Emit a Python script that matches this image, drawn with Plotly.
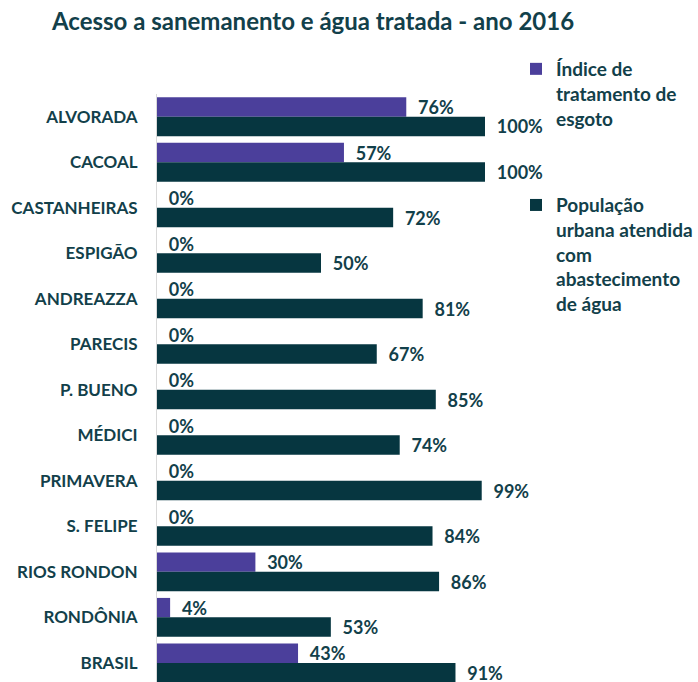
import plotly.graph_objects as go

categories = ["ALVORADA", "CACOAL", "CASTANHEIRAS", "ESPIGÃO", "ANDREAZZA", "PARECIS",
              "P. BUENO", "MÉDICI", "PRIMAVERA", "S. FELIPE", "RIOS RONDON", "RONDÔNIA", "BRASIL"]
esgoto = [76, 57, 0, 0, 0, 0, 0, 0, 0, 0, 30, 4, 43]
agua = [100, 100, 72, 50, 81, 67, 85, 74, 99, 84, 86, 53, 91]

series_names = ["Índice de<br>tratamento de<br>esgoto",
                "População<br>urbana atendida<br>com<br>abastecimento<br>de água"]
colors = ["#4B3F9B", "#063640"]
text_color = "#12404A"
FONT = "Lato"

PLOT_TOP = 94
PLOT_H = 682 - PLOT_TOP

fig = go.Figure()
for vals, name, col, grp in [(esgoto, series_names[0], colors[0], "a"),
                             (agua, series_names[1], colors[1], "b")]:
    fig.add_trace(go.Bar(
        y=categories, x=vals, orientation="h", name=name,
        marker=dict(color=col, line=dict(width=0)),
        text=[f"\u00a0\u00a0{v}%" for v in vals], textposition="outside",
        constraintext="none",
        textfont=dict(family=FONT, size=18, color=text_color, weight="bold"),
        cliponaxis=False, legendgroup=grp,
    ))

fig.update_layout(
    width=698, height=682,
    barmode="group", bargap=0.145, bargroupgap=0,
    plot_bgcolor="white", paper_bgcolor="white",
    margin=dict(l=157, r=213, t=PLOT_TOP, b=0),
    title=dict(text="<b>Acesso a sanemanento e água tratada - ano 2016</b>",
               x=52/698, xanchor="left", y=1-22/682, yanchor="middle",
               font=dict(family=FONT, size=24, color=text_color)),
    xaxis=dict(range=[0, 100], visible=False, showgrid=False, zeroline=False),
    yaxis=dict(range=[12.42, -0.5], showgrid=False, zeroline=False,
               showline=True, linecolor="#D9D9D9", linewidth=1,
               ticks="", ticklabelstandoff=15, automargin=False,
               tickfont=dict(family=FONT, size=17, color=text_color, weight="bold")),
    legend=dict(x=(516-157)/328, xanchor="left", y=1+(PLOT_TOP-50)/PLOT_H, yanchor="top",
                traceorder="grouped", valign="top", tracegroupgap=59,
                font=dict(family=FONT, size=19, color=text_color, weight="bold"),
                itemwidth=30, bgcolor="rgba(0,0,0,0)"),
    showlegend=True,
)

fig.write_html("out.html", config={"displayModeBar": False},
               post_script="document.body.style.margin='0';")
